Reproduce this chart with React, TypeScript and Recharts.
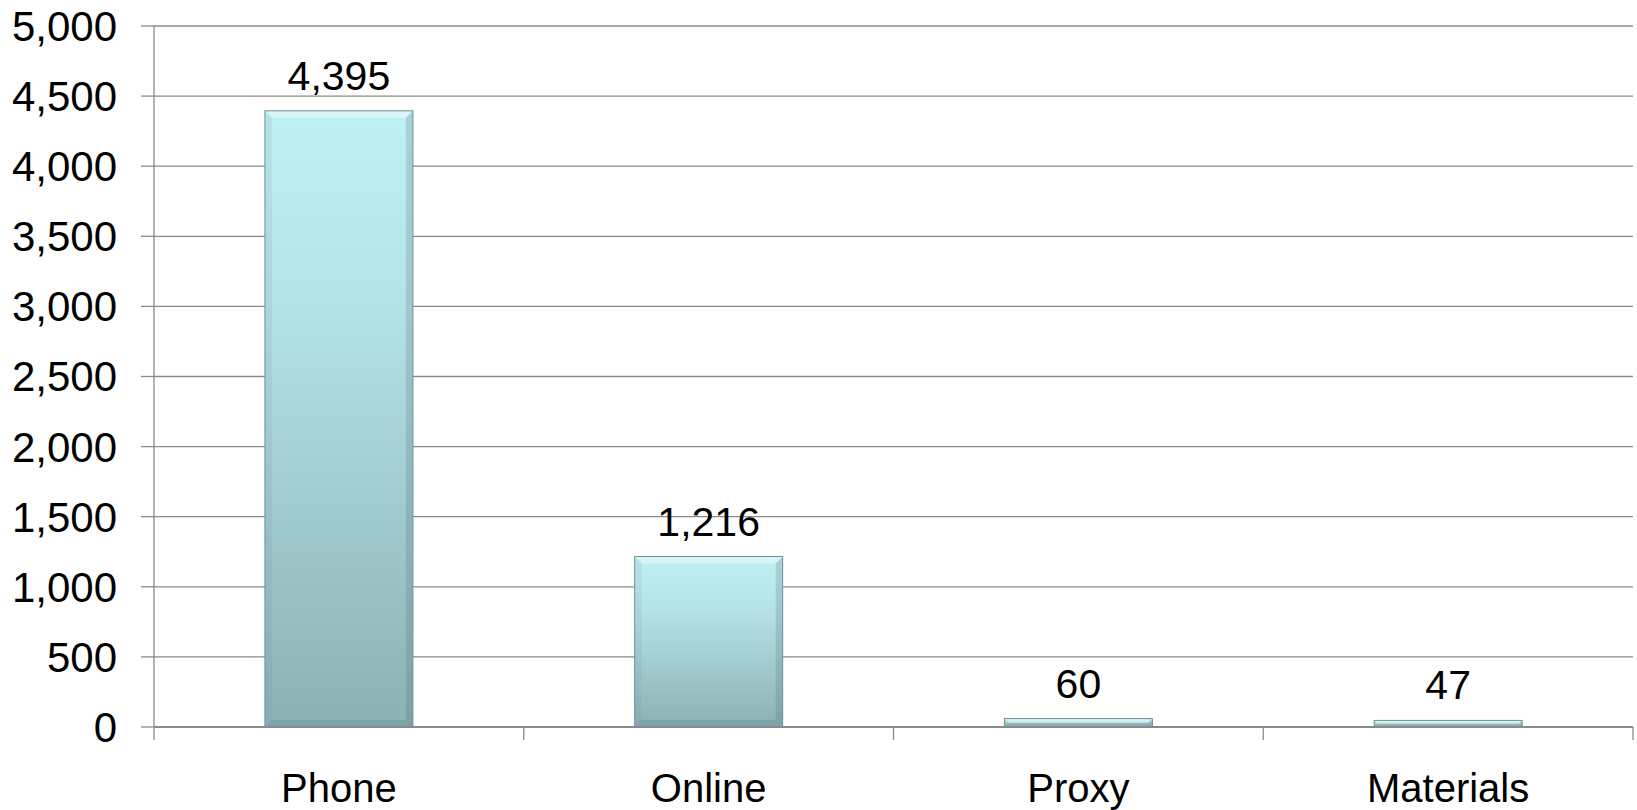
import React from "react";
import { BarChart, Bar, XAxis, YAxis, CartesianGrid, LabelList } from "recharts";

const categories = ["Phone", "Online", "Proxy", "Materials"];
const values = [4395, 1216, 60, 47];
const yTicks = [0, 500, 1000, 1500, 2000, 2500, 3000, 3500, 4000, 4500, 5000];

const data = categories.map((name, i) => ({ name, value: values[i] }));

const W = 1637;
const H = 810;
const LEFT = 154;
const RIGHT = 4;
const BAND = (W - LEFT - RIGHT) / categories.length;
const FONT = '"Liberation Sans", Arial, sans-serif';
const AXIS = "#8a8a8a";

const BevelBar = (props: any) => {
  const { x, y, width, height } = props;
  if (!height || height <= 0) return null;
  const b = Math.min(7, height / 2, width / 2);
  return (
    <g>
      <rect x={x} y={y} width={width} height={height} fill="url(#barGrad)" />
      <polygon
        points={`${x},${y} ${x + width},${y} ${x + width - b},${y + b} ${x + b},${y + b}`}
        fill="#ffffff"
        fillOpacity={0.4}
      />
      <polygon
        points={`${x},${y} ${x + b},${y + b} ${x + b},${y + height - b} ${x},${y + height}`}
        fill="#5d8487"
        fillOpacity={0.1}
      />
      <polygon
        points={`${x + width},${y} ${x + width - b},${y + b} ${x + width - b},${y + height - b} ${x + width},${y + height}`}
        fill="#3f6568"
        fillOpacity={0.2}
      />
      <polygon
        points={`${x},${y + height} ${x + b},${y + height - b} ${x + width - b},${y + height - b} ${x + width},${y + height}`}
        fill="#3f6568"
        fillOpacity={0.18}
      />
      <rect x={x} y={y} width={width} height={height} fill="none" stroke="#6f9295" strokeWidth={1} />
    </g>
  );
};

const XTick = (props: any) => {
  const { x, y, payload, index } = props;
  const half = BAND / 2;
  const axisY = y - 46;
  return (
    <g>
      <line x1={x - half} y1={axisY} x2={x - half} y2={axisY + 13} stroke={AXIS} strokeWidth={1.3} />
      {index === categories.length - 1 && (
        <line x1={x + half} y1={axisY} x2={x + half} y2={axisY + 13} stroke={AXIS} strokeWidth={1.3} />
      )}
      <text x={x} y={y + 29} textAnchor="middle" fontSize={40} fontFamily={FONT} fill="#000">
        {payload.value}
      </text>
    </g>
  );
};

export default function App() {
  return (
    <div style={{ position: "absolute", left: 0, top: 0, width: W, height: H, background: "#fff" }}>
      <BarChart
        width={W}
        height={H}
        data={data}
        margin={{ top: 26, right: RIGHT, left: 0, bottom: 0 }}
        barCategoryGap="30%"
      >
        <defs>
          <linearGradient id="barGrad" x1="0" y1="0" x2="0" y2="1">
            <stop offset="0%" stopColor="#bff0f4" />
            <stop offset="30%" stopColor="#b5e3e8" />
            <stop offset="100%" stopColor="#8cb1b4" />
          </linearGradient>
        </defs>
        <CartesianGrid horizontal vertical={false} stroke={AXIS} strokeWidth={1.3} />
        <XAxis
          dataKey="name"
          height={83}
          axisLine={{ stroke: AXIS, strokeWidth: 2 }}
          tickLine={false}
          tickSize={13}
          tickMargin={33}
          tick={<XTick />}
          interval={0}
        />
        <YAxis
          width={LEFT}
          domain={[0, 5000]}
          ticks={yTicks}
          interval={0}
          axisLine={{ stroke: AXIS, strokeWidth: 1.3 }}
          tickLine={{ stroke: AXIS, strokeWidth: 1.3 }}
          tickSize={13}
          tickMargin={24}
          tick={{ fontSize: 42, fontFamily: FONT, fill: "#000" }}
          tickFormatter={(v: number) => v.toLocaleString("en-US")}
        />
        <Bar dataKey="value" shape={<BevelBar />} isAnimationActive={false}>
          <LabelList
            dataKey="value"
            position="top"
            offset={21}
            fontSize={41}
            fontFamily={FONT}
            fill="#000"
            formatter={(v: any) => Number(v).toLocaleString("en-US")}
          />
        </Bar>
      </BarChart>
    </div>
  );
}
